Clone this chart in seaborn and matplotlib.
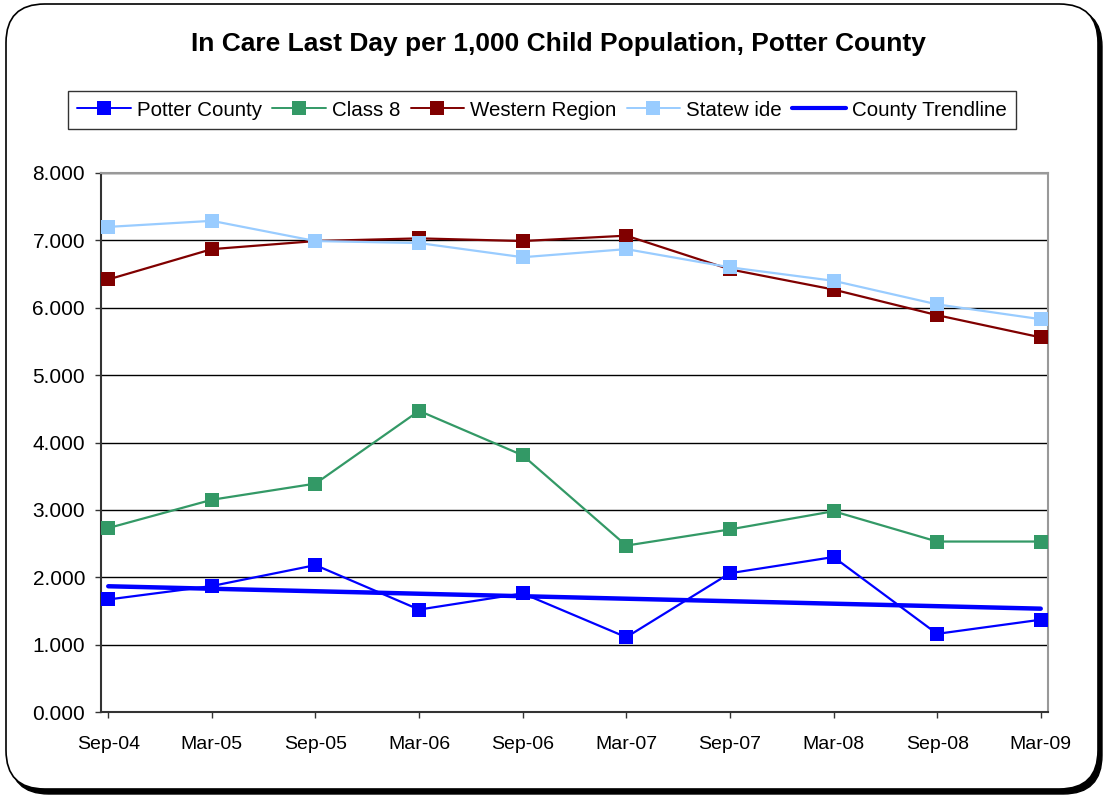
import numpy as np
import pandas as pd
import matplotlib
matplotlib.use("Agg")
import matplotlib.pyplot as plt
from matplotlib.patches import FancyBboxPatch
from matplotlib.lines import Line2D
import seaborn as sns

periods = ["Sep-04", "Mar-05", "Sep-05", "Mar-06", "Sep-06",
           "Mar-07", "Sep-07", "Mar-08", "Sep-08", "Mar-09"]
potter_county = [1.67, 1.87, 2.18, 1.52, 1.76, 1.11, 2.06, 2.30, 1.16, 1.37]
class_8 = [2.73, 3.15, 3.39, 4.47, 3.81, 2.47, 2.71, 2.98, 2.53, 2.53]
western_region = [6.42, 6.87, 6.99, 7.03, 6.99, 7.07, 6.57, 6.27, 5.89, 5.56]
statewide = [7.20, 7.29, 6.99, 6.96, 6.75, 6.87, 6.60, 6.40, 6.05, 5.83]
y_ticks = [0, 1, 2, 3, 4, 5, 6, 7, 8]

series_names = ["Potter County", "Class 8", "Western Region", "Statewide"]
colors = {"Potter County": "#0000FF", "Class 8": "#339966",
          "Western Region": "#800000", "Statewide": "#99CCFF"}

x = np.arange(len(periods))
df = pd.concat([
    pd.DataFrame({"x": x, "value": vals, "series": name})
    for name, vals in zip(series_names, [potter_county, class_8, western_region, statewide])
], ignore_index=True)

sns.set_theme(style="white")
plt.rcParams["font.family"] = ["Liberation Sans", "DejaVu Sans"]
plt.rcParams["text.color"] = "black"

fig = plt.figure(figsize=(11.06, 8.09), dpi=100)

# outer rounded frame with shadow
shadow = FancyBboxPatch((10 / 1106, 1 - 794 / 809), 1092 / 1106, 786 / 809,
                        boxstyle="round,pad=0,rounding_size=0.035",
                        transform=fig.transFigure, facecolor="black",
                        edgecolor="black", zorder=-2, mutation_aspect=1106 / 809)
frame = FancyBboxPatch((6 / 1106, 1 - 789 / 809), 1092 / 1106, 785 / 809,
                       boxstyle="round,pad=0,rounding_size=0.035",
                       transform=fig.transFigure, facecolor="white",
                       edgecolor="black", linewidth=1.2, zorder=-1,
                       mutation_aspect=1106 / 809)
fig.patches.extend([shadow, frame])

ax = fig.add_axes([101 / 1106, 1 - 712 / 809, (1048 - 101) / 1106, (712 - 173) / 809])
ax.set_facecolor("white")

sns.lineplot(data=df, x="x", y="value", hue="series", hue_order=series_names,
             palette=colors, style="series", markers=["s"] * 4, dashes=False,
             markersize=10, markeredgewidth=0, linewidth=1.6, ax=ax, legend=False,
             zorder=3)

# county trendline (least-squares fit of Potter County values)
slope, intercept = np.polyfit(x, potter_county, 1)
trend = intercept + slope * x
sns.lineplot(x=x, y=trend, color="#0000FF", linewidth=3.2, ax=ax, zorder=2)

ax.set_xlim(-0.07, 9.07)
ax.set_ylim(0, 8)
ax.set_yticks(y_ticks)
ax.set_yticklabels([f"{v:.3f}" for v in y_ticks])
ax.set_xticks(x)
ax.set_xticklabels(periods)
ax.set_xlabel("")
ax.set_ylabel("")
ax.grid(axis="y", color="black", linewidth=1.0)
ax.grid(axis="x", visible=False)
ax.tick_params(axis="both", colors="#333333", labelcolor="black",
               length=4.5, width=1, direction="out")
ax.tick_params(axis="x", pad=13, labelsize=14)
ax.tick_params(axis="y", pad=7, labelsize=15)
ax.yaxis.set_ticks_position("left")
ax.xaxis.set_ticks_position("bottom")
for side in ["left", "bottom"]:
    ax.spines[side].set_color("#333333")
    ax.spines[side].set_linewidth(1.5)
for side in ["top", "right"]:
    ax.spines[side].set_color("#999999")
    ax.spines[side].set_linewidth(1.5)
    ax.spines[side].set_visible(True)

fig.text(558 / 1106, 1 - 44 / 809, "In Care Last Day per 1,000 Child Population, Potter County",
         ha="center", va="center", fontsize=19, fontweight="bold", color="black")

handles = [Line2D([0], [0], color=colors[n], marker="s", markersize=10,
                  markeredgewidth=0, linewidth=1.4) for n in series_names]
handles.append(Line2D([0], [0], color="#0000FF", linewidth=3))
labels = series_names[:3] + ["Statew ide", "County Trendline"]
leg = fig.legend(handles, labels, loc="center", ncol=5,
                 bbox_to_anchor=(542 / 1106, 1 - 110 / 809),
                 frameon=True, fancybox=False, fontsize=14.8,
                 handlelength=2.6, handletextpad=0.3, columnspacing=0.5,
                 borderpad=0.45, labelcolor="black")
leg.get_frame().set_edgecolor("black")
leg.get_frame().set_linewidth(1.0)

fig.savefig("out.png", dpi=100)
